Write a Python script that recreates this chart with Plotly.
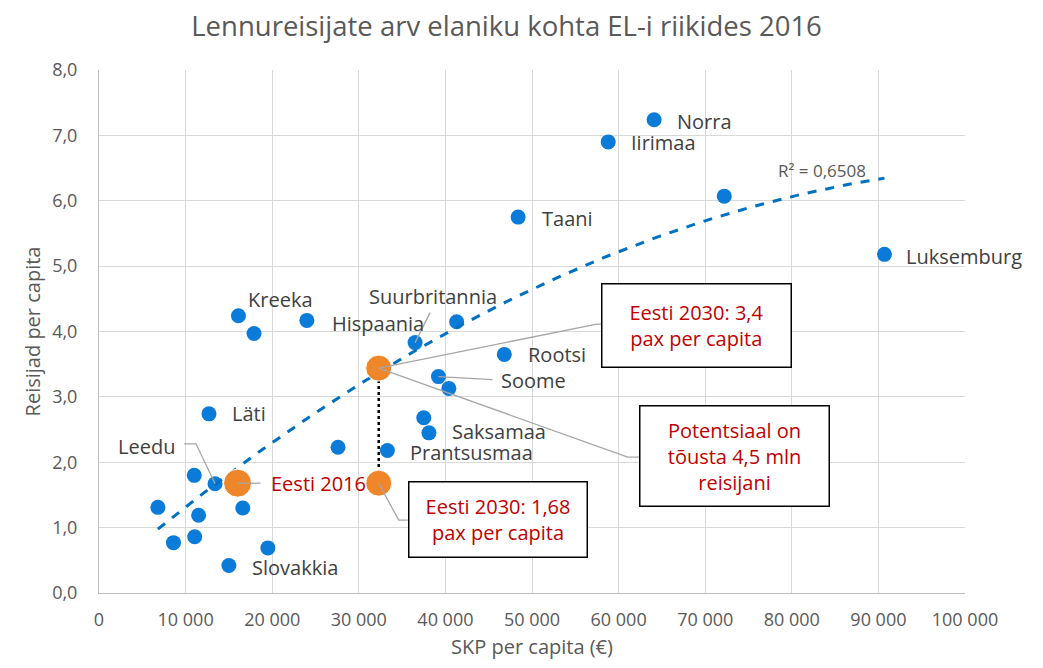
import numpy as np
import plotly.graph_objects as go

# SKP per capita (EUR) vs lennureisijad elaniku kohta, loetud graafikult
countries = ["Norra", "Iirimaa", "", "Taani", "Luksemburg", "Kreeka", "", "Hispaania",
             "Suurbritannia", "", "Rootsi", "Soome", "", "", "Saksamaa", "Prantsusmaa", "",
             "Läti", "", "Leedu", "", "", "", "", "", "", "Slovakkia"]
gdp = [64100, 58800, 72200, 48400, 90700, 16100, 17900, 24000,
       36500, 41300, 46800, 39200, 40400, 37500, 38100, 33300, 27600,
       12700, 11000, 13400, 6800, 11500, 16600, 8600, 11050, 19500, 15000]
pax = [7.24, 6.90, 6.07, 5.75, 5.18, 4.24, 3.97, 4.17,
       3.83, 4.15, 3.65, 3.31, 3.13, 2.68, 2.45, 2.18, 2.23,
       2.74, 1.80, 1.67, 1.31, 1.19, 1.30, 0.77, 0.86, 0.69, 0.42]

eesti_gdp = [16000, 32300, 32300]
eesti_pax = [1.68, 3.44, 1.68]
eesti_names = ["Eesti 2016", "Eesti 2030", "Eesti 2030 (1,68)"]

r2_text = "R² = 0,6508"
box_up = "Eesti 2030: 3,4<br>pax per capita"
box_pot = "Potentsiaal on<br>tõusta 4,5 mln<br>reisijani"
box_low = "Eesti 2030: 1,68<br>pax per capita"

BLUE = "#0A7BD9"
ORANGE = "#F0862A"
RED = "#C00000"
GREY_TXT = "#404040"
FONT = "Open Sans"

# label offsets in pixels (dx, dy screen-down, anchor)
label_pos = {
    "Norra": (21, 2, "left"), "Iirimaa": (21, 1, "left"), "Taani": (22, 1, "left"),
    "Luksemburg": (20, 2, "left"), "Kreeka": (8, -16, "left"), "Hispaania": (23, 3, "left"),
    "Suurbritannia": (-48, -46, "left"), "Rootsi": (22, 0, "left"), "Soome": (61, 4, "left"),
    "Saksamaa": (21, -1, "left"), "Prantsusmaa": (21, 2, "left"), "Läti": (21, 0, "left"),
    "Leedu": (-38, -37, "right"), "Slovakkia": (21, 2, "left"),
}

# quadratic trendline like Excel's
coef = np.polyfit(gdp, pax, 2)
tx = np.linspace(min(gdp), max(gdp), 120)
ty = np.polyval(coef, tx)

fig = go.Figure()
fig.add_trace(go.Scatter(x=gdp, y=pax, mode="markers",
                         marker=dict(color=BLUE, size=15), hoverinfo="x+y"))
fig.add_trace(go.Scatter(x=tx, y=ty, mode="lines",
                         line=dict(color="#0070C0", width=3, dash="dash"), hoverinfo="skip"))
fig.add_trace(go.Scatter(x=eesti_gdp, y=eesti_pax, mode="markers", text=eesti_names,
                         marker=dict(color=ORANGE, size=[28, 26, 26], opacity=1),
                         hoverinfo="text"))

ann = []
for name, x, y in zip(countries, gdp, pax):
    if not name:
        continue
    dx, dy, anc = label_pos[name]
    ann.append(dict(x=x, y=y, text=name, showarrow=False, xanchor=anc, yanchor="middle",
                    xshift=dx, yshift=-dy, font=dict(size=20, color=GREY_TXT, family=FONT)))

ann.append(dict(x=eesti_gdp[0], y=eesti_pax[0], text="Eesti 2016", showarrow=False,
                xanchor="left", yanchor="middle", xshift=31, yshift=0,
                font=dict(size=20, color=RED, family=FONT)))
ann.append(dict(x=tx[-1], y=ty[-1], text=r2_text, showarrow=False, xanchor="right",
                yanchor="middle", xshift=-16, yshift=8,
                font=dict(size=17, color="#595959", family=FONT)))

box = dict(showarrow=False, bgcolor="white", bordercolor="black", borderwidth=1.5,
           borderpad=0, font=dict(size=20, color=RED, family=FONT))
ann.append(dict(x=eesti_gdp[1], y=eesti_pax[1], text=box_up, xshift=318, yshift=43,
                width=188, height=82, **box))
ann.append(dict(x=eesti_gdp[1], y=eesti_pax[1], text=box_pot, xshift=356, yshift=-88,
                width=188, height=99, **box))
ann.append(dict(x=eesti_gdp[2], y=eesti_pax[2], text=box_low, xshift=119, yshift=-36,
                width=177, height=74, **box))


def leader(x, y, path):
    return dict(type="path", xref="x", yref="y", xsizemode="pixel", ysizemode="pixel",
                xanchor=x, yanchor=y, path=path, layer="above",
                line=dict(color="#A6A6A6", width=1.3))


name_idx = {n: i for i, n in enumerate(countries) if n}
shapes = [
    dict(type="line", xref="x", yref="y", x0=eesti_gdp[1], x1=eesti_gdp[2],
         y0=eesti_pax[1], y1=eesti_pax[2], layer="below",
         line=dict(color="black", width=2.5, dash="dot")),
    leader(gdp[name_idx["Leedu"]], pax[name_idx["Leedu"]], "M0,0 L-19,40 L-31,40"),
    leader(gdp[name_idx["Suurbritannia"]], pax[name_idx["Suurbritannia"]], "M0,0 L15,30"),
    leader(gdp[name_idx["Soome"]], pax[name_idx["Soome"]], "M0,0 L54,-3"),
    leader(eesti_gdp[0], eesti_pax[0], "M0,0 L23,0"),
    leader(eesti_gdp[1], eesti_pax[1], "M0,0 L218,44 L224,44"),
    leader(eesti_gdp[1], eesti_pax[1], "M0,0 L249,-89 L261,-89"),
    leader(eesti_gdp[2], eesti_pax[2], "M0,0 L20,-37 L29,-37"),
]

fig.update_layout(
    width=1043, height=668,
    margin=dict(l=91, r=86, t=62, b=83),
    paper_bgcolor="white", plot_bgcolor="white",
    separators=", ",
    showlegend=False,
    font=dict(family=FONT, color="#595959"),
    title=dict(text="Lennureisijate arv elaniku kohta EL-i riikides 2016",
               x=0.478, xanchor="center", y=0.973, yanchor="middle",
               font=dict(size=27.5, color="#595959", family=FONT)),
    annotations=ann,
    shapes=shapes,
)
fig.update_xaxes(range=[0, 100000], dtick=10000, tickformat=",d", automargin=False,
                 showgrid=True, gridcolor="#D9D9D9", gridwidth=1,
                 showline=True, linecolor="#BFBFBF", zeroline=False,
                 tickfont=dict(size=18, color="#595959"), ticklabelstandoff=10,
                 title=dict(text="SKP per capita (€)", font=dict(size=20, color="#595959"),
                            standoff=10))
fig.update_yaxes(range=[0, 8], dtick=1, tickformat=".1f", automargin=False,
                 showgrid=True, gridcolor="#D9D9D9", gridwidth=1,
                 showline=True, linecolor="#BFBFBF", zeroline=False,
                 tickfont=dict(size=18, color="#595959"), ticklabelstandoff=17,
                 title=dict(text="Reisijad per capita", font=dict(size=20, color="#595959"),
                            standoff=6))

fig.write_html("out.html")
